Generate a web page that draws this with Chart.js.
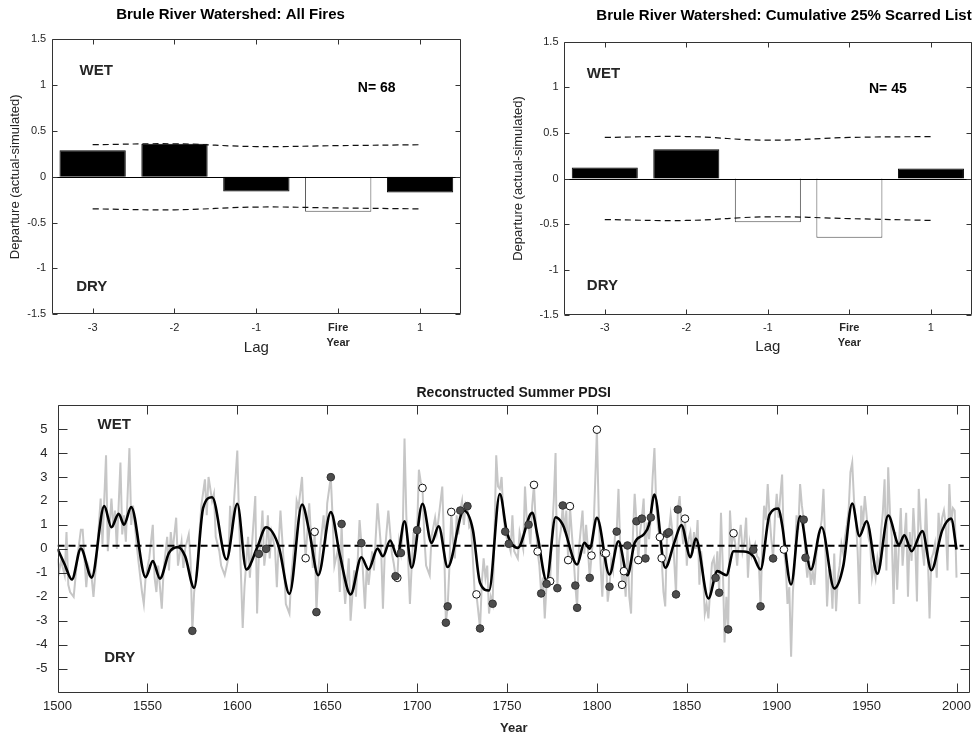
<!DOCTYPE html>
<html>
<head>
<meta charset="utf-8">
<title>Brule River Watershed: fire years and summer PDSI</title>
<script src="https://cdn.jsdelivr.net/npm/chart.js@4.4.1/dist/chart.umd.min.js"></script>
<style>
  html, body { margin: 0; padding: 0; background: #fff; }
  body { width: 975px; height: 739px; position: relative; overflow: hidden; }
  canvas { position: absolute; }
  #allFires { left: 0; top: 0; }
  #scarred { left: 490px; top: 0; }
  #pdsi { left: 0; top: 375px; }
</style>
</head>
<body>
<canvas id="allFires" width="475" height="360"></canvas>
<canvas id="scarred" width="485" height="360"></canvas>
<canvas id="pdsi" width="975" height="364"></canvas>
<script>
// ---- superposed epoch analysis (departure of PDSI around fire years) ----
const lagLabels = ['-3', '-2', '-1', ['Fire', 'Year'], '1'];

const allFiresDeparture = [0.29, 0.36, -0.16, -0.38, -0.17];
const allFiresUpper = [0.35, 0.36, 0.33, 0.34, 0.35];
const allFiresLower = [-0.35, -0.36, -0.33, -0.34, -0.35];

const scarredDeparture = [0.12, 0.32, -0.48, -0.65, 0.11];
const scarredUpper = [0.45, 0.46, 0.42, 0.45, 0.46];
const scarredLower = [-0.45, -0.46, -0.42, -0.44, -0.46];

// ---- reconstructed summer PDSI, [year, value] ----
const annualPdsi = [
  [1500,-0.4],[1501,-0.9],[1502,-0.5],[1504,-1.1],[1505,0.7],[1506,-1.5],[1507,-1.8],[1509,-2.0],[1510,-1.2],[1511,-0.4],
  [1513,0.8],[1514,0.8],[1516,-1.6],[1517,-0.7],[1519,-1.2],[1520,-2.0],[1522,-0.1],[1524,2.1],[1525,0.2],[1527,3.9],
  [1528,-0.1],[1530,2.1],[1531,0.9],[1532,1.6],[1533,0.0],[1535,3.6],[1536,0.6],[1537,1.4],[1538,0.3],[1540,4.2],
  [1541,1.0],[1542,1.8],[1544,0.2],[1545,-0.5],[1547,-1.8],[1548,-2.3],[1549,-1.2],[1551,-0.4],[1553,1.0],[1554,-1.2],
  [1555,-1.8],[1556,-0.7],[1558,-2.5],[1559,-0.9],[1561,0.5],[1562,-0.9],[1563,0.7],[1564,-0.1],[1566,1.3],[1567,-0.7],
  [1569,0.3],[1570,-0.8],[1571,0.0],[1573,0.6],[1574,-0.5],[1576,-1.8],[1578,-0.7],[1579,0.7],[1580,1.8],[1582,2.9],
  [1583,1.4],[1584,3.0],[1586,2.0],[1587,2.3],[1588,0.5],[1590,-0.1],[1591,-0.7],[1593,-1.1],[1595,-0.4],[1596,1.8],
  [1597,0.7],[1598,1.8],[1600,4.1],[1601,1.2],[1602,-1.0],[1603,-3.3],[1604,-1.6],[1606,0.5],[1607,-1.2],[1608,0.0],
  [1610,2.2],[1611,-2.7],[1613,0.2],[1614,1.6],[1615,-0.7],[1617,1.4],[1618,-0.4],[1619,0.7],[1621,0.0],[1622,-1.6],
  [1623,0.2],[1624,1.6],[1626,-0.8],[1627,-2.3],[1629,-2.7],[1630,-1.2],[1632,0.5],[1633,2.0],[1634,1.7],[1636,3.0],
  [1637,1.0],[1640,1.9],[1641,0.5],[1642,-0.8],[1645,-1.0],[1646,0.0],[1648,1.4],[1649,0.2],[1650,1.9],[1653,1.3],
  [1654,-0.7],[1656,0.0],[1657,-1.8],[1659,-1.2],[1660,-2.3],[1662,-0.4],[1663,-3.0],[1665,-0.9],[1666,-2.0],[1668,1.2],
  [1671,-2.5],[1672,-0.7],[1673,-1.5],[1675,-0.1],[1676,-0.9],[1678,1.9],[1680,0.0],[1681,-2.5],[1682,-0.2],[1684,1.6],
  [1686,-0.2],[1687,-0.6],[1690,0.3],[1692,0.7],[1693,4.6],[1694,1.4],[1696,-2.3],[1697,-0.7],[1698,0.7],[1699,0.0],
  [1701,3.3],[1702,2.8],[1704,0.5],[1705,-0.7],[1707,-1.1],[1708,0.5],[1710,1.3],[1711,0.7],[1712,1.3],[1714,2.6],
  [1715,0.2],[1718,-0.7],[1720,0.3],[1721,-0.4],[1722,1.4],[1723,0.6],[1725,2.0],[1726,1.0],[1727,1.9],[1729,0.9],
  [1730,1.0],[1731,-0.4],[1732,-1.8],[1734,-2.6],[1736,-1.4],[1737,-0.4],[1738,-1.2],[1739,-0.7],[1740,-2.7],[1741,-2.0],
  [1743,0.5],[1744,3.9],[1745,2.6],[1746,2.5],[1747,3.0],[1748,1.4],[1750,0.4],[1752,-0.1],[1753,1.4],[1754,-0.1],
  [1756,-0.4],[1757,0.7],[1759,0.0],[1760,2.6],[1761,1.2],[1763,0.2],[1764,1.8],[1766,1.0],[1768,-0.7],[1770,-1.2],
  [1771,-2.9],[1773,-1.1],[1775,0.7],[1776,2.0],[1777,4.0],[1779,0.3],[1780,0.8],[1782,0.7],[1783,1.6],[1786,0.7],
  [1787,-0.3],[1790,0.0],[1791,0.8],[1792,1.6],[1793,-0.2],[1794,1.0],[1795,0.0],[1798,0.5],[1799,2.7],[1801,1.5],
  [1802,-0.6],[1803,-2.0],[1806,-2.2],[1808,-0.5],[1809,-0.9],[1810,0.5],[1812,2.5],[1813,0.0],[1816,-2.0],[1818,-2.0],
  [1819,-2.7],[1820,0.5],[1821,2.3],[1824,0.7],[1826,2.1],[1828,1.1],[1829,0.4],[1831,3.0],[1832,4.2],[1833,1.8],
  [1834,0.9],[1837,-1.8],[1838,-2.4],[1841,1.4],[1842,0.7],[1843,-0.5],[1846,2.2],[1847,1.0],[1848,0.2],[1850,-0.7],
  [1851,0.4],[1852,0.7],[1853,-0.2],[1854,0.7],[1855,0.0],[1856,1.2],[1857,-1.5],[1858,-0.1],[1859,-1.0],[1860,-2.7],
  [1861,-2.3],[1862,-2.9],[1863,-1.7],[1864,-0.6],[1865,-0.4],[1867,-0.1],[1869,1.5],[1870,-0.7],[1871,-3.9],[1872,-2.0],
  [1874,1.6],[1875,0.2],[1877,0.2],[1878,-0.7],[1879,0.4],[1880,1.0],[1881,-0.1],[1882,0.3],[1883,1.3],[1884,-1.2],
  [1885,0.2],[1886,-0.3],[1888,0.2],[1889,-0.3],[1890,-0.4],[1892,0.2],[1893,1.8],[1894,1.2],[1895,2.7],[1896,1.4],
  [1897,0.4],[1899,1.3],[1900,2.3],[1901,1.3],[1902,2.2],[1903,3.1],[1905,-0.7],[1906,-2.3],[1907,-1.6],[1908,-4.5],
  [1909,-1.8],[1910,-0.7],[1911,1.4],[1912,0.8],[1913,2.7],[1914,1.8],[1917,-1.2],[1918,-0.5],[1919,-1.5],[1920,-0.9],
  [1921,-1.5],[1922,-0.3],[1923,0.5],[1924,0.7],[1925,1.2],[1926,2.5],[1927,0.2],[1928,-2.4],[1929,-0.9],[1930,-0.9],
  [1931,-2.5],[1932,-0.2],[1933,-2.6],[1934,-1.2],[1935,-0.7],[1936,0.2],[1937,-0.2],[1938,0.5],[1939,1.0],[1940,1.6],
  [1941,3.2],[1942,3.6],[1943,2.0],[1944,1.2],[1945,-0.1],[1946,-2.3],[1947,1.8],[1948,1.0],[1949,2.2],[1950,1.4],
  [1951,0.5],[1952,0.2],[1953,-1.2],[1954,-0.7],[1955,-1.2],[1956,-0.4],[1957,-0.9],[1958,0.7],[1959,1.5],[1960,2.9],
  [1961,-0.9],[1962,3.4],[1963,1.5],[1964,0.5],[1965,-2.3],[1966,0.7],[1967,-1.7],[1968,0.2],[1969,1.7],[1970,-0.7],
  [1971,0.4],[1972,1.5],[1973,-2.0],[1974,0.7],[1975,-0.5],[1976,1.7],[1977,0.3],[1978,-2.2],[1979,2.5],[1980,1.0],
  [1981,0.0],[1982,-0.7],[1983,2.1],[1984,-0.1],[1985,-2.9],[1986,-0.4],[1987,-0.2],[1988,0.2],[1989,-1.2],[1990,1.5],
  [1991,0.5],[1992,1.3],[1993,1.6],[1994,1.0],[1995,-0.9],[1996,2.7],[1997,1.1],[1998,1.7],[1999,1.6],[2000,-1.2]
];

// smoothing spline through the series, turning points
const smoothedPdsi = [
  [1500,0.0],[1504,-0.65],[1508,-1.28],[1513,0.01],[1519,-1.2],[1526,1.78],[1530,0.9],[1534,1.46],[1537,1.01],[1541,1.74],
  [1549,-1.18],[1553,-0.51],[1557,-1.24],[1562,-0.17],[1567,0.07],[1571,-0.31],[1576,-1.63],[1581,1.71],[1586,2.15],[1594,-0.44],
  [1600,1.88],[1605,-0.86],[1611,0.04],[1616,0.9],[1623,0.11],[1629,-1.88],[1636,1.85],[1640,0.74],[1645,-1.1],[1652,1.53],
  [1657,-0.24],[1663,-1.9],[1669,-0.35],[1673,-0.86],[1678,0.01],[1681,-0.31],[1685,0.35],[1689,-0.31],[1693,1.15],[1697,-0.79],
  [1703,1.88],[1708,0.25],[1712,0.94],[1717,-0.76],[1726,1.6],[1731,0.8],[1735,-1.42],[1740,-1.74],[1746,2.29],[1750,0.67],
  [1756,0.04],[1764,1.5],[1767,0.53],[1772,-1.32],[1777,1.32],[1781,1.01],[1789,-0.65],[1793,0.25],[1796,0.01],[1800,1.29],
  [1807,-1.07],[1812,0.32],[1817,-1.1],[1821,0.25],[1826,0.6],[1829,1.01],[1832,2.26],[1838,-0.79],[1843,0.25],[1847,0.99],
  [1852,-0.35],[1855,0.43],[1862,-2.07],[1867,-0.93],[1872,-1.1],[1876,-0.1],[1883,-0.12],[1887,-0.31],[1891,-0.86],[1896,1.43],
  [1901,1.68],[1903,1.0],[1908,-1.49],[1913,1.36],[1919,-0.86],[1925,0.9],[1932,-1.65],[1937,-0.72],[1942,1.89],[1946,0.53],
  [1950,1.15],[1956,-1.04],[1962,1.39],[1968,0.18],[1971,0.57],[1975,-0.1],[1981,0.74],[1986,-0.89],[1992,0.76],[1997,1.26],
  [2000,-0.03]
];

// fire years with PDSI of that year: 25% scarred list (filled) and remaining fires (open)
const scarredFires = [
  [1575,-3.42],[1612,-0.21],[1616,0.0],[1644,-2.64],[1652,2.99],[1658,1.04],[1669,0.24],[1688,-1.14],[1691,-0.17],[1700,0.78],
  [1716,-3.08],[1717,-2.4],[1724,1.6],[1728,1.78],[1735,-3.32],[1742,-2.29],[1749,0.72],[1751,0.21],[1762,1.01],[1769,-1.86],
  [1772,-1.46],[1778,-1.64],[1781,1.81],[1788,-1.53],[1789,-2.46],[1796,-1.21],[1807,-1.58],[1811,0.72],[1817,0.14],[1822,1.15],
  [1825,1.26],[1827,-0.4],[1830,1.31],[1839,0.63],[1840,0.69],[1844,-1.9],[1845,1.64],[1866,-1.21],[1868,-1.83],[1873,-3.36],
  [1887,-0.04],[1891,-2.4],[1898,-0.4],[1915,1.22],[1916,-0.37]
];
const otherFires = [
  [1638,-0.39],[1643,0.71],[1689,-1.21],[1703,2.54],[1719,1.54],[1733,-1.9],[1765,2.67],[1767,-0.11],[1774,-1.35],[1784,-0.47],
  [1785,1.78],[1797,-0.28],[1800,4.97],[1804,-0.17],[1805,-0.19],[1814,-1.5],[1815,-0.93],[1823,-0.47],[1835,0.49],[1836,-0.39],
  [1849,1.26],[1876,0.65],[1904,-0.03]
];

const meanLevel = 0.13;
const meanSpan = [1500, 2004];
const yearTicks = [1500, 1550, 1600, 1650, 1700, 1750, 1800, 1850, 1900, 1950, 2000];
const pdsiTicks = [-5, -4, -3, -2, -1, 0, 1, 2, 3, 4, 5];

const FONT = '"Liberation Sans", Arial, Helvetica, sans-serif';
const AXIS_GREY = '#262626';
Chart.defaults.font.family = FONT;
Chart.defaults.color = AXIS_GREY;

// box around the plot with inward tick marks on all four sides
function boxFrame(tickLength, zeroLine) {
  return {
    id: 'boxFrame',
    afterDatasetsDraw(chart) {
      const { ctx, chartArea: a, scales: { x, y } } = chart;
      const left = Math.round(a.left) + 0.5, right = Math.round(a.right) - 0.5;
      const top = Math.round(a.top) + 0.5, bottom = Math.round(a.bottom) - 0.5;
      ctx.save();
      ctx.lineWidth = 1;
      if (zeroLine) {
        const y0 = Math.round(y.getPixelForValue(0)) + 0.5;
        ctx.strokeStyle = '#000';
        ctx.beginPath();
        ctx.moveTo(left, y0);
        ctx.lineTo(right, y0);
        ctx.stroke();
      }
      ctx.strokeStyle = '#333';
      ctx.beginPath();
      x.ticks.forEach((t, i) => {
        const px = Math.round(x.getPixelForTick(i)) + 0.5;
        ctx.moveTo(px, bottom); ctx.lineTo(px, bottom - tickLength);
        ctx.moveTo(px, top); ctx.lineTo(px, top + tickLength);
      });
      y.ticks.forEach((t, i) => {
        const py = Math.round(y.getPixelForTick(i)) + 0.5;
        ctx.moveTo(left, py); ctx.lineTo(left + tickLength, py);
        ctx.moveTo(right, py); ctx.lineTo(right - tickLength, py);
      });
      ctx.rect(left, top, right - left, bottom - top);
      ctx.stroke();
      ctx.restore();
    }
  };
}

// bold labels placed in data coordinates
function panelNotes(notes) {
  return {
    id: 'panelNotes',
    afterDatasetsDraw(chart) {
      const { ctx, scales: { x, y } } = chart;
      ctx.save();
      ctx.textAlign = 'left';
      ctx.textBaseline = 'middle';
      notes.forEach(n => {
        ctx.font = `bold ${n.size}px ${FONT}`;
        ctx.fillStyle = n.color;
        ctx.fillText(n.text, x.getPixelForValue(n.x), y.getPixelForValue(n.y));
      });
      ctx.restore();
    }
  };
}

function departureChart(canvasId, cfg) {
  const outside = i => cfg.values[i] > cfg.upper[i] || cfg.values[i] < cfg.lower[i];
  const band = {
    type: 'line',
    borderColor: '#111',
    borderWidth: 1.2,
    borderDash: [6, 4],
    pointRadius: 0,
    tension: 0.4,
    order: 0
  };
  return new Chart(document.getElementById(canvasId), {
    type: 'bar',
    data: {
      labels: lagLabels,
      datasets: [
        {
          data: cfg.values,
          backgroundColor: c => outside(c.dataIndex) ? '#fff' : '#000',
          borderColor: c => outside(c.dataIndex) ? '#4d4d4d' : '#000',
          borderWidth: 1,
          barPercentage: 0.81,
          categoryPercentage: 1,
          order: 1
        },
        { ...band, data: cfg.upper },
        { ...band, data: cfg.lower }
      ]
    },
    options: {
      responsive: false,
      animation: false,
      devicePixelRatio: 1,
      layout: { padding: { left: 0, right: cfg.padRight, top: 0, bottom: 0 } },
      plugins: {
        legend: { display: false },
        tooltip: { enabled: false },
        title: {
          display: true,
          text: cfg.title,
          align: cfg.titleAlign,
          color: '#000',
          font: { size: 15, weight: 'bold' },
          padding: cfg.titlePadding
        }
      },
      scales: {
        x: {
          grid: { display: false, drawTicks: false },
          border: { display: false },
          ticks: {
            color: AXIS_GREY,
            padding: cfg.tickPad,
            maxRotation: 0,
            autoSkip: false,
            font: c => ({ size: 11, lineHeight: 1.36, weight: Array.isArray(lagLabels[c.index]) ? 'bold' : 'normal' })
          },
          title: { display: true, text: 'Lag', color: AXIS_GREY, font: { size: 15 }, padding: { top: 0, bottom: cfg.lagPad } },
          afterFit: s => { s.height = cfg.xHeight; }
        },
        y: {
          min: -1.5,
          max: 1.5,
          grid: { display: false, drawTicks: false },
          border: { display: false },
          ticks: { stepSize: 0.5, color: AXIS_GREY, padding: 5.5, font: { size: 11 }, callback: v => String(v) },
          title: {
            display: true,
            text: 'Departure (actual-simulated)',
            color: AXIS_GREY,
            font: { size: 13 },
            padding: { top: cfg.yTitlePad, bottom: 0 }
          },
          afterFit: s => { s.width = cfg.yWidth; }
        }
      }
    },
    plugins: [boxFrame(5, true), panelNotes(cfg.notes)]
  });
}

departureChart('allFires', {
  title: 'Brule River Watershed: All Fires',
  titleAlign: 'center',
  titlePadding: { top: 6.3, bottom: 15 },
  values: allFiresDeparture,
  upper: allFiresUpper,
  lower: allFiresLower,
  padRight: 14,
  yWidth: 51.7,
  yTitlePad: 7.2,
  xHeight: 45.7,
  tickPad: 6.5,
  lagPad: 3,
  notes: [
    { text: 'WET', x: -0.16, y: 1.16, size: 15, color: AXIS_GREY },
    { text: 'DRY', x: -0.2, y: -1.2, size: 15, color: AXIS_GREY },
    { text: 'N= 68', x: 3.24, y: 0.97, size: 14, color: '#000' }
  ]
});

departureChart('scarred', {
  title: 'Brule River Watershed: Cumulative 25% Scarred List',
  titleAlign: 'end',
  titlePadding: { top: 6.7, bottom: 17 },
  values: scarredDeparture,
  upper: scarredUpper,
  lower: scarredLower,
  padRight: 3.3,
  yWidth: 74,
  yTitlePad: 20.2,
  xHeight: 44.7,
  tickPad: 5.5,
  lagPad: 4.3,
  notes: [
    { text: 'WET', x: -0.22, y: 1.145, size: 15, color: AXIS_GREY },
    { text: 'DRY', x: -0.22, y: -1.18, size: 15, color: AXIS_GREY },
    { text: 'N= 45', x: 3.24, y: 0.98, size: 14, color: '#000' }
  ]
});

// ---- PDSI time series ----
const toPoints = pairs => pairs.map(([x, y]) => ({ x, y }));

// fire-year readings take precedence over the annual readings for the same year
function annualSeries() {
  const byYear = new Map(annualPdsi);
  scarredFires.concat(otherFires).forEach(([yr, v]) => byYear.set(yr, v));
  return [...byYear.entries()].sort((a, b) => a[0] - b[0]).map(([x, y]) => ({ x, y }));
}

new Chart(document.getElementById('pdsi'), {
  type: 'line',
  data: {
    datasets: [
      {
        data: toPoints(scarredFires),
        showLine: false,
        pointRadius: 3.8,
        pointBackgroundColor: '#4d4d4d',
        pointBorderColor: '#333',
        pointBorderWidth: 1,
        order: 0
      },
      {
        data: toPoints(otherFires),
        showLine: false,
        pointRadius: 3.8,
        pointBackgroundColor: '#fff',
        pointBorderColor: '#111',
        pointBorderWidth: 1,
        order: 1
      },
      {
        data: toPoints(smoothedPdsi),
        borderColor: '#000',
        borderWidth: 2.6,
        pointRadius: 0,
        cubicInterpolationMode: 'monotone',
        order: 2
      },
      {
        data: meanSpan.map(x => ({ x, y: meanLevel })),
        borderColor: '#000',
        borderWidth: 2,
        borderDash: [7, 4],
        pointRadius: 0,
        order: 3
      },
      {
        data: annualSeries(),
        borderColor: '#c6c6c6',
        borderWidth: 2,
        pointRadius: 0,
        tension: 0,
        order: 4
      }
    ]
  },
  options: {
    responsive: false,
    animation: false,
    devicePixelRatio: 1,
    layout: { padding: { left: 0, right: 4, top: 0, bottom: 0 } },
    plugins: {
      legend: { display: false },
      tooltip: { enabled: false },
      title: {
        display: true,
        fullSize: false,
        text: 'Reconstructed Summer PDSI',
        color: '#1a1a1a',
        font: { size: 14, weight: 'bold' },
        padding: { top: 9.6, bottom: 3.6 }
      }
    },
    scales: {
      x: {
        type: 'linear',
        min: 1500,
        max: 2007.5,
        grid: { display: false, drawTicks: false },
        border: { display: false },
        afterBuildTicks: s => { s.ticks = yearTicks.map(value => ({ value })); },
        ticks: { color: AXIS_GREY, padding: 6, font: { size: 13 }, maxRotation: 0, autoSkip: false, callback: v => String(v) },
        title: { display: true, text: 'Year', color: AXIS_GREY, font: { size: 13, weight: 'bold' }, padding: { top: 0, bottom: 3.2 } },
        // fixed height; the edge labels may overhang the plot without shrinking it
        afterFit: s => { s.height = 46.3; s.paddingLeft = 0; s.paddingRight = 0; }
      },
      y: {
        min: -6,
        max: 6,
        grid: { display: false, drawTicks: false },
        border: { display: false },
        afterBuildTicks: s => { s.ticks = pdsiTicks.map(value => ({ value })); },
        ticks: { color: AXIS_GREY, padding: 10, font: { size: 13 }, autoSkip: false, callback: v => String(v) },
        afterFit: s => { s.width = 57.5; s.paddingTop = 0; s.paddingBottom = 0; }
      }
    }
  },
  plugins: [
    boxFrame(9, false),
    panelNotes([
      { text: 'WET', x: 1522.3, y: 5.18, size: 15, color: AXIS_GREY },
      { text: 'DRY', x: 1526, y: -4.53, size: 15, color: AXIS_GREY }
    ])
  ]
});
</script>
</body>
</html>
